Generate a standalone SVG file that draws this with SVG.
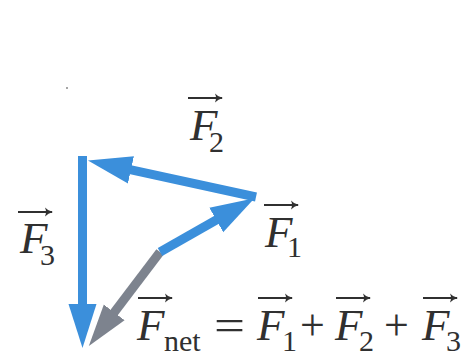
<svg xmlns="http://www.w3.org/2000/svg" width="470" height="356" viewBox="0 0 470 356">
<style>
.vec{stroke-width:9;fill:none;stroke-linecap:butt}
.blue{stroke:#3b8fdb}
.gray{stroke:#7d838e}
.t{font-family:"Liberation Serif","Times New Roman",serif;fill:#303030}
.F{font-style:italic;font-size:45px}
.sub{font-size:30px}
.op{font-size:44px}
.ov{stroke:#303030;stroke-width:1.9;fill:none}
.ovh{fill:#303030}
</style>
<defs>
<marker id="hb" markerUnits="userSpaceOnUse" markerWidth="50" markerHeight="32" viewBox="0 -16 50 32" refX="2" refY="0" orient="auto"><path d="M0,-14 L44,0 L0,14 Z" fill="#3b8fdb"/></marker>
<marker id="hg" markerUnits="userSpaceOnUse" markerWidth="50" markerHeight="32" viewBox="0 -16 50 32" refX="2" refY="0" orient="auto"><path d="M0,-13 L42,0 L0,13 Z" fill="#7d838e"/></marker>
<g id="ovarrow"><path d="M0,0 H34" class="ov"/><path d="M27,-4.5 Q30,-1 35,0 Q30,1 27,4.5 Q29,0 27,-4.5 Z" class="ovh"/></g>
</defs>
<circle cx="67" cy="88" r="1" fill="#888"/>
<g id="connectors">
<line id="Fnet" class="vec gray" x1="160" y1="252" x2="113" y2="314" marker-end="url(#hg)"/>
<line id="F1" class="vec blue" x1="160" y1="252" x2="218" y2="219" marker-end="url(#hb)"/>
<line id="F2" class="vec blue" x1="256" y1="197" x2="129" y2="169.4" marker-end="url(#hb)"/>
<line id="F3" class="vec blue" x1="82.5" y1="156" x2="82.5" y2="306" marker-end="url(#hb)"/>
</g>
<g id="label-F2">
<use href="#ovarrow" x="188" y="98"/>
<text class="t F" x="190" y="140">F</text>
<text class="t sub" x="209" y="152">2</text>
</g>
<g id="label-F1">
<use href="#ovarrow" x="264" y="205"/>
<text class="t F" x="265" y="247">F</text>
<text class="t sub" x="287" y="257">1</text>
</g>
<g id="label-F3">
<use href="#ovarrow" x="18" y="212"/>
<text class="t F" x="20" y="253">F</text>
<text class="t sub" x="40" y="265">3</text>
</g>
<g id="equation">
<use href="#ovarrow" x="138" y="298"/>
<text class="t F" x="137" y="340">F</text>
<text class="t sub" x="164" y="351">net</text>
<text class="t op" x="214" y="340" transform="translate(214 0) scale(1.25 1) translate(-214 0)">=</text>
<use href="#ovarrow" x="258" y="298"/>
<text class="t F" x="257" y="340">F</text>
<text class="t sub" x="282" y="351">1</text>
<text class="t op" x="300" y="340">+</text>
<use href="#ovarrow" x="336" y="298"/>
<text class="t F" x="335" y="340">F</text>
<text class="t sub" x="359" y="351">2</text>
<text class="t op" x="384" y="340">+</text>
<use href="#ovarrow" x="423" y="298"/>
<text class="t F" x="422" y="340">F</text>
<text class="t sub" x="446" y="351">3</text>
</g>
</svg>
